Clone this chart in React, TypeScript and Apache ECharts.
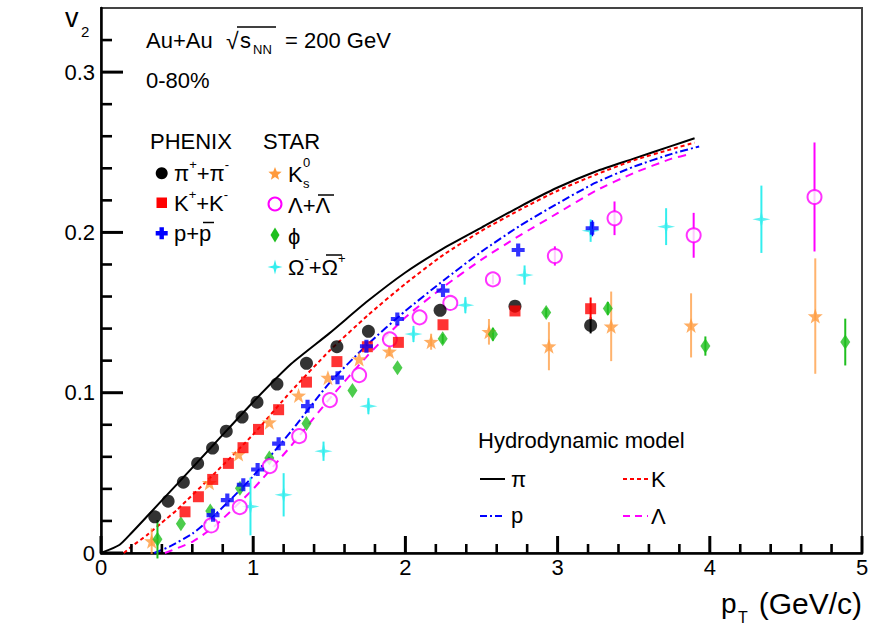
import React, { useEffect, useRef } from 'react';
import * as echarts from 'echarts';

const FONT = '"Liberation Sans", Arial, Helvetica, sans-serif';

// ---- PHENIX data ----
const pionPt = [0.353, 0.441, 0.541, 0.635, 0.733, 0.823, 0.927, 1.025, 1.156, 1.35, 1.55, 1.757, 2.228, 2.72, 3.217];
const pionV2 = [0.0226, 0.0323, 0.0442, 0.0559, 0.0655, 0.076, 0.0848, 0.0941, 0.1054, 0.1183, 0.1287, 0.1383, 0.1514, 0.154, 0.142];
const pionErr = [0, 0, 0, 0, 0, 0, 0, 0, 0, 0, 0, 0, 0, 0, 0.005];

const kaonPt = [0.552, 0.64, 0.734, 0.837, 0.933, 1.035, 1.167, 1.35, 1.55, 1.75, 1.954, 2.247, 2.72, 3.217];
const kaonV2 = [0.0257, 0.0351, 0.0459, 0.0559, 0.0657, 0.0771, 0.0894, 0.1066, 0.1194, 0.1287, 0.1314, 0.1424, 0.151, 0.1524];
const kaonErr = [0, 0, 0, 0, 0, 0, 0, 0, 0, 0, 0, 0, 0, 0.007];

const protonPt = [0.736, 0.83, 0.935, 1.029, 1.167, 1.357, 1.554, 1.744, 1.947, 2.247, 2.741, 3.227];
const protonV2 = [0.0236, 0.033, 0.0426, 0.0521, 0.0682, 0.0916, 0.1094, 0.129, 0.146, 0.1637, 0.189, 0.2026];
const protonErr = [0, 0, 0, 0, 0, 0, 0, 0, 0, 0, 0, 0.005];

// ---- STAR data ----
const k0sPt = [0.333, 0.712, 0.904, 1.106, 1.298, 1.491, 1.696, 1.895, 2.169, 2.549, 2.943, 3.352, 3.877, 4.693];
const k0sV2 = [0.0074, 0.0438, 0.0617, 0.0816, 0.0983, 0.1094, 0.121, 0.1257, 0.1318, 0.138, 0.129, 0.1414, 0.142, 0.1478];
const k0sErr = [0.008, 0, 0, 0, 0, 0, 0, 0.003, 0.005, 0.008, 0.015, 0.0217, 0.02, 0.036];

const lambdaPt = [0.724, 0.912, 1.109, 1.302, 1.504, 1.696, 1.898, 2.093, 2.295, 2.575, 2.982, 3.374, 3.894, 4.688];
const lambdaV2 = [0.0172, 0.0286, 0.0542, 0.0729, 0.0954, 0.111, 0.1333, 0.147, 0.156, 0.1707, 0.1853, 0.2088, 0.1982, 0.2221];
const lambdaErr = [0, 0, 0, 0, 0, 0, 0, 0, 0, 0.003, 0.006, 0.0105, 0.014, 0.034];

const phiPt = [0.371, 0.525, 0.718, 0.913, 1.106, 1.35, 1.652, 1.948, 2.245, 2.575, 2.925, 3.33, 3.971, 4.89];
const phiV2 = [0.0086, 0.0182, 0.0262, 0.0404, 0.0592, 0.0808, 0.1014, 0.1156, 0.1336, 0.1364, 0.15, 0.1526, 0.1291, 0.1316];
const phiErr = [0.012, 0, 0, 0, 0, 0, 0, 0, 0.003, 0.004, 0.003, 0.004, 0.006, 0.0146];

const omegaPt = [0.982, 1.2, 1.462, 1.757, 2.053, 2.394, 2.783, 3.217, 3.713, 4.339];
const omegaV2 = [0.029, 0.0363, 0.0635, 0.0916, 0.1366, 0.1546, 0.1734, 0.2011, 0.2036, 0.2082];
const omegaErr = [0.018, 0.0135, 0.006, 0.005, 0.005, 0.005, 0.006, 0.007, 0.0115, 0.021];

// ---- Hydrodynamic model curves ----
const hydroPiPt = [0, 0.12, 0.2, 0.3, 0.5, 0.75, 1.0, 1.25, 1.5, 1.75, 2.0, 2.25, 2.5, 2.75, 3.0, 3.25, 3.5, 3.75, 3.9];
const hydroPiV2 = [0, 0.005, 0.0125, 0.0226, 0.043, 0.0686, 0.0942, 0.118, 0.137, 0.157, 0.175, 0.19, 0.203, 0.216, 0.228, 0.238, 0.246, 0.254, 0.2587];
const hydroKPt = [0.15, 0.2, 0.3, 0.4, 0.5, 0.75, 1.0, 1.25, 1.5, 1.75, 2.0, 2.25, 2.5, 2.75, 3.0, 3.25, 3.5, 3.75, 3.9];
const hydroKV2 = [0, 0.004, 0.011, 0.019, 0.027, 0.05, 0.074, 0.101, 0.126, 0.148, 0.168, 0.186, 0.201, 0.214, 0.226, 0.236, 0.245, 0.252, 0.256];
const hydroPPt = [0.35, 0.45, 0.6, 0.75, 0.9, 1.0, 1.25, 1.5, 1.75, 2.0, 2.25, 2.5, 2.75, 3.0, 3.25, 3.5, 3.75, 3.93];
const hydroPV2 = [0, 0.004, 0.012, 0.024, 0.038, 0.048, 0.076, 0.106, 0.13, 0.151, 0.17, 0.188, 0.204, 0.218, 0.231, 0.241, 0.249, 0.2536];
const hydroLPt = [0.42, 0.6, 0.75, 1.0, 1.25, 1.5, 1.75, 2.0, 2.25, 2.5, 2.75, 3.0, 3.25, 3.5, 3.75, 3.87];
const hydroLV2 = [0, 0.007, 0.017, 0.04, 0.067, 0.096, 0.123, 0.147, 0.166, 0.183, 0.198, 0.212, 0.226, 0.237, 0.246, 0.2488];

// ---- axes & ticks ----
const xRange = { min: 0, max: 5, interval: 1 };
const yRange = { min: 0, max: 0.34, interval: 0.1 };
const xMajorTicks = [0, 1, 2, 3, 4, 5];
const xMinorTicks = [0.2, 0.4, 0.6, 0.8, 1.2, 1.4, 1.6, 1.8, 2.2, 2.4, 2.6, 2.8, 3.2, 3.4, 3.6, 3.8, 4.2, 4.4, 4.6, 4.8];
const yMajorTicks = [0, 0.1, 0.2, 0.3];
const yMinorTicks = [0.02, 0.04, 0.06, 0.08, 0.12, 0.14, 0.16, 0.18, 0.22, 0.24, 0.26, 0.28, 0.32];

const C_PI = '#000000';
const C_K = '#ff0000';
const C_P = '#0000ff';
const C_K0 = '#ff9a3c';
const C_L = '#ff00ff';
const C_PHI = '#1fbf1f';
const C_OM = '#33eeee';

const STAR5 = 'path://M50 0 L61.76 33.82 L97.55 34.55 L69.02 56.18 L79.39 90.45 L50 70 L20.61 90.45 L30.98 56.18 L2.45 34.55 L38.24 33.82 Z';
const PLUS = 'path://M34 0 H66 V34 H100 V66 H66 V100 H34 V66 H0 V34 H34 Z';
const STAR4 = 'path://M50 0 L59 41 L100 50 L59 59 L50 100 L41 59 L0 50 L41 41 Z';

function pts(x: number[], y: number[]) {
  return x.map((v, i) => [v, y[i]]);
}
function errs(x: number[], y: number[], e: number[]) {
  return x.map((v, i) => [v, y[i], e[i]]).filter((d) => d[2] > 0);
}

function errSeries(data: number[][], color: string, opacity = 1) {
  return {
    type: 'custom',
    data,
    encode: { x: 0, y: 1 },
    z: 3,
    silent: true,
    renderItem: (_p: any, api: any) => {
      const x = api.value(0);
      const y = api.value(1);
      const e = api.value(2);
      const a = api.coord([x, y + e]);
      const b = api.coord([x, y - e]);
      return {
        type: 'line',
        shape: { x1: a[0], y1: a[1], x2: b[0], y2: b[1] },
        style: { stroke: color, lineWidth: 2, opacity },
      };
    },
  };
}

// axis ticks drawn inside the frame, positioned by the axis scales
function tickSeries(values: number[], dir: 'x' | 'y', len: number, width: number) {
  return {
    type: 'custom',
    data: values.map((v) => (dir === 'x' ? [v, 0] : [0, v])),
    encode: { x: 0, y: 1 },
    z: 20,
    silent: true,
    clip: false,
    renderItem: (_p: any, api: any) => {
      const p = api.coord([api.value(0), api.value(1)]);
      const shape =
        dir === 'x'
          ? { x1: p[0], y1: p[1], x2: p[0], y2: p[1] - len }
          : { x1: p[0], y1: p[1], x2: p[0] + len, y2: p[1] };
      return { type: 'line', shape, style: { stroke: '#000', lineWidth: width } };
    },
  };
}

function curve(x: number[], y: number[], color: string, type: any) {
  return {
    type: 'line',
    data: pts(x, y),
    smooth: 0.2,
    symbol: 'none',
    z: 2,
    silent: true,
    lineStyle: { color, width: 2, type },
  };
}

function scatter(x: number[], y: number[], symbol: string, size: any, itemStyle: any) {
  return {
    type: 'scatter',
    data: pts(x, y),
    symbol,
    symbolSize: size,
    z: 5,
    silent: true,
    itemStyle,
  };
}

const rich = {
  a: { fontSize: 22, lineHeight: 30, fontFamily: FONT, color: '#000' },
  sup: { fontSize: 13, lineHeight: 15, fontFamily: FONT, color: '#000', verticalAlign: 'top' },
  sub: { fontSize: 13, lineHeight: 15, fontFamily: FONT, color: '#000', verticalAlign: 'bottom' },
};

function txt(x: number, y: number, text: string, extra: any = {}) {
  return {
    type: 'text',
    x,
    y,
    silent: true,
    style: { text, rich, fontSize: 22, fontFamily: FONT, fill: '#000', align: 'left', verticalAlign: 'middle', ...extra },
  };
}
function plain(x: number, y: number, text: string, size: number, extra: any = {}) {
  return {
    type: 'text',
    x,
    y,
    silent: true,
    style: { text, fontSize: size, fontFamily: FONT, fill: '#000', align: 'left', verticalAlign: 'middle', ...extra },
  };
}
function hline(x1: number, x2: number, y: number, color: string, dash: any = null, w = 2) {
  return {
    type: 'line',
    silent: true,
    shape: { x1, y1: y, x2, y2: y },
    style: { stroke: color, lineWidth: w, lineDash: dash },
  };
}
function starPoly(cx: number, cy: number, R: number, r: number, n: number) {
  const p: number[][] = [];
  for (let i = 0; i < 2 * n; i++) {
    const ang = -Math.PI / 2 + (i * Math.PI) / n;
    const rad = i % 2 === 0 ? R : r;
    p.push([cx + rad * Math.cos(ang), cy + rad * Math.sin(ang)]);
  }
  return p;
}

export default function App() {
  const ref = useRef<HTMLDivElement>(null);
  useEffect(() => {
    if (!ref.current) return;
    const chart = echarts.init(ref.current, null, { renderer: 'svg' });

    const graphic: any[] = [
      // y title
      plain(65, 18, 'v', 27),
      plain(81, 31, '2', 15),
      // x title
      plain(721, 603, 'p', 28),
      plain(738, 617, 'T', 16),
      plain(862, 603, '(GeV/c)', 30, { align: 'right' }),
      // header
      plain(146, 40, 'Au+Au', 22),
      plain(226, 41, '√', 23),
      hline(237, 276, 27, '#000', null, 1.5),
      plain(240, 40, 's', 22),
      plain(253, 49, 'NN', 13),
      plain(285, 40, '= 200 GeV', 22),
      plain(146, 80, '0-80%', 22),
      // PHENIX legend
      plain(150, 141, 'PHENIX', 22),
      { type: 'circle', silent: true, shape: { cx: 161.7, cy: 173.3, r: 6 }, style: { fill: C_PI } },
      txt(174, 173, '{a|π}{sup|+}{a|+π}{sup|-}'),
      { type: 'rect', silent: true, shape: { x: 156.5, y: 197.5, width: 10.5, height: 10.5 }, style: { fill: C_K } },
      txt(174, 203, '{a|K}{sup|+}{a|+K}{sup|-}'),
      {
        type: 'polygon',
        silent: true,
        shape: {
          points: [
            [159.5, 227.3], [163.9, 227.3], [163.9, 231.1], [167.7, 231.1], [167.7, 235.5], [163.9, 235.5],
            [163.9, 239.3], [159.5, 239.3], [159.5, 235.5], [155.7, 235.5], [155.7, 231.1], [159.5, 231.1],
          ],
        },
        style: { fill: C_P },
      },
      plain(174, 233, 'p+p', 22),
      hline(203, 214, 222.5, '#000', null, 1.5),
      // STAR legend
      plain(263, 141, 'STAR', 22),
      { type: 'polygon', silent: true, shape: { points: starPoly(275, 174, 7, 3, 5) }, style: { fill: C_K0 } },
      plain(288, 174, 'K', 22),
      plain(303, 162, '0', 13),
      plain(303, 183, 's', 13),
      { type: 'circle', silent: true, shape: { cx: 275, cy: 204, r: 6.5 }, style: { fill: '#fff', stroke: C_L, lineWidth: 2 } },
      plain(288, 205, 'Λ+Λ', 22),
      hline(318, 334, 195, '#000', null, 1.5),
      {
        type: 'polygon',
        silent: true,
        shape: { points: [[275, 227.5], [279.5, 235], [275, 242.5], [270.5, 235]] },
        style: { fill: C_PHI },
      },
      plain(288, 236, 'ϕ', 22),
      { type: 'polygon', silent: true, shape: { points: starPoly(275, 267, 7.5, 2.2, 4) }, style: { fill: C_OM } },
      txt(288, 267, '{a|Ω}{sup|-}{a|+Ω}{sup|+}'),
      hline(326, 342, 255, '#000', null, 1.5),
      // Hydro legend
      plain(478, 440, 'Hydrodynamic model', 22),
      hline(480, 505, 479, C_PI, null, 2),
      plain(511, 479, 'π', 22),
      hline(623, 648, 479, C_K, [4, 3], 2),
      plain(651, 479, 'K', 22),
      hline(480, 505, 516, C_P, [7, 3, 2, 3], 2),
      plain(511, 515, 'p', 22),
      hline(623, 648, 516, C_L, [7, 5], 2),
      plain(651, 516, 'Λ', 22),
    ];

    const axisLabel = { fontSize: 22, color: '#000', fontFamily: FONT };

    chart.setOption({
      animation: false,
      backgroundColor: '#fff',
      grid: {
        left: 101,
        top: 8,
        width: 761,
        height: 545,
        show: true,
        borderColor: '#444',
        borderWidth: 2,
        containLabel: false,
      },
      xAxis: {
        type: 'value',
        min: xRange.min,
        max: xRange.max,
        interval: xRange.interval,
        axisLine: { show: true, onZero: false, lineStyle: { color: '#000', width: 2.5 } },
        axisTick: { show: false },
        splitLine: { show: false },
        axisLabel: { ...axisLabel, margin: 3 },
      },
      yAxis: {
        type: 'value',
        min: yRange.min,
        max: yRange.max,
        interval: yRange.interval,
        axisLine: { show: true, onZero: false, lineStyle: { color: '#000', width: 2.5 } },
        axisTick: { show: false },
        splitLine: { show: false },
        axisLabel: {
          ...axisLabel,
          margin: 6,
          showMaxLabel: false,
          formatter: (v: number) => (v === 0 ? '0' : v.toFixed(1)),
        },
      },
      graphic,
      series: [
        curve(hydroPiPt, hydroPiV2, C_PI, 'solid'),
        curve(hydroKPt, hydroKV2, C_K, [4, 3]),
        curve(hydroPPt, hydroPV2, C_P, [8, 3, 2, 3]),
        curve(hydroLPt, hydroLV2, C_L, [8, 6]),
        errSeries(errs(pionPt, pionV2, pionErr), C_PI),
        errSeries(errs(kaonPt, kaonV2, kaonErr), C_K),
        errSeries(errs(protonPt, protonV2, protonErr), C_P),
        errSeries(errs(k0sPt, k0sV2, k0sErr), C_K0, 0.75),
        errSeries(errs(lambdaPt, lambdaV2, lambdaErr), C_L),
        errSeries(errs(phiPt, phiV2, phiErr), C_PHI),
        errSeries(errs(omegaPt, omegaV2, omegaErr), C_OM),
        scatter(k0sPt, k0sV2, STAR5, 15, { color: C_K0 }),
        scatter(phiPt, phiV2, 'diamond', [10, 15], { color: C_PHI }),
        scatter(omegaPt, omegaV2, STAR4, 18, { color: C_OM }),
        scatter(lambdaPt, lambdaV2, 'circle', 14, { color: '#fff', borderColor: C_L, borderWidth: 2 }),
        scatter(pionPt, pionV2, 'circle', 13, { color: C_PI }),
        scatter(kaonPt, kaonV2, 'rect', 11, { color: C_K }),
        scatter(protonPt, protonV2, PLUS, 13, { color: C_P }),
        tickSeries(xMajorTicks, 'x', 17, 3),
        tickSeries(xMinorTicks, 'x', 9, 2.6),
        tickSeries(yMajorTicks, 'y', 22, 3),
        tickSeries(yMinorTicks, 'y', 11, 2.6),
      ],
    });
    return () => chart.dispose();
  }, []);
  return (
    <div
      ref={ref}
      style={{ position: 'fixed', left: 0, top: 0, width: 892, height: 629, background: '#fff' }}
    />
  );
}
